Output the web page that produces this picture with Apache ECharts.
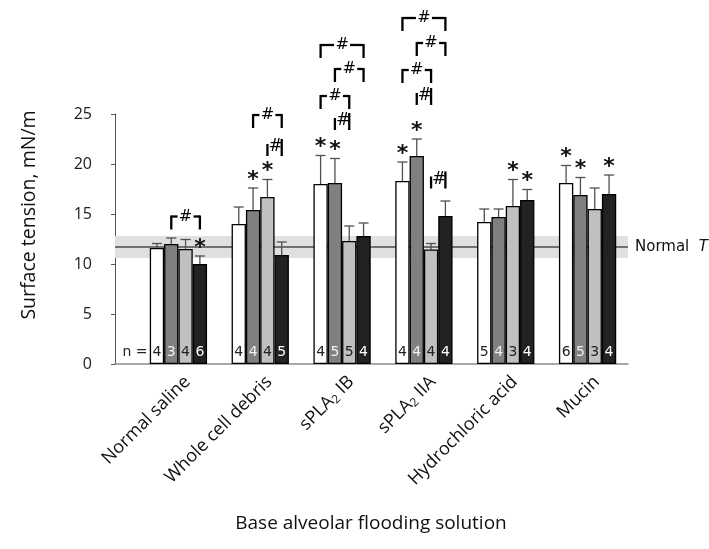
<!DOCTYPE html>
<html>
<head>
<meta charset="utf-8">
<script src="https://cdn.jsdelivr.net/npm/echarts@6/dist/echarts.min.js"></script>
<style>html,body{margin:0;padding:0;background:#fff}#c{width:709px;height:549px}</style>
</head>
<body>
<div id="c"></div>
<script>
// ---------- data ----------
const categories = ['Normal saline', 'Whole cell debris', 'sPLA2 IB', 'sPLA2 IIA', 'Hydrochloric acid', 'Mucin'];
const yTicks = [0, 5, 10, 15, 20, 25];
// four bars per category (white, dark gray, light gray, black)
const valWhite = [11.6, 14.0, 18.0, 18.3, 14.2, 18.1];
const valDark  = [12.0, 15.4, 18.1, 20.8, 14.7, 16.9];
const valLight = [11.5, 16.7, 12.3, 11.45, 15.8, 15.5];
const valBlack = [10.0, 10.9, 12.8, 14.8, 16.4, 17.0];
const errWhite = [0.45, 1.7, 2.85, 1.9, 1.3, 1.75];
const errDark  = [0.6, 2.2, 2.45, 1.7, 0.8, 1.75];
const errLight = [0.95, 1.75, 1.5, 0.6, 2.65, 2.1];
const errBlack = [0.8, 1.3, 1.3, 1.5, 1.05, 1.9];
const nWhite = [4, 4, 4, 4, 5, 6];
const nDark  = [3, 4, 5, 4, 4, 5];
const nLight = [4, 4, 5, 4, 3, 3];
const nBlack = [6, 5, 4, 4, 4, 4];
// asterisks: [category, bar]
const asterisks = [[0,3],[1,1],[1,2],[2,0],[2,1],[3,0],[3,1],[4,2],[4,3],[5,0],[5,1],[5,3]];
// # brackets: [category, fromBar, toBar, topValue]
const brackets = [
  [0,1,3,14.75],
  [1,1,3,24.9],[1,2,3,22.5],
  [2,0,3,31.9],[2,1,3,29.5],[2,0,2,26.8],[2,1,2,25.1],
  [3,0,3,34.6],[3,1,3,32.1],[3,0,2,29.4],[3,1,2,27.6],[3,2,3,19.25]
];
const normalT = 11.7;
const normalBand = [10.6, 12.8];

// ---------- build ----------
const vals = [valWhite, valDark, valLight, valBlack];
const errs = [errWhite, errDark, errLight, errBlack];
const ns = [nWhite, nDark, nLight, nBlack];
const fills = ['#ffffff', '#808080', '#c0c0c0', '#222222'];
const nColors = ['#222', '#f0f0f0', '#222', '#ffffff'];
const BARFRAC = 0.175;
const numFont = 'DejaVu Sans';
const txtFont = 'Open Sans';

function barX(api, cat, b) {
  const bw = api.size([1, 0])[0] * BARFRAC;
  return api.coord([cat, 0])[0] + (b - 1.5) * bw;
}

const errData = [], nData = [], astData = [];
for (let b = 0; b < 4; b++) for (let i = 0; i < categories.length; i++) {
  errData.push([i, b, vals[b][i], errs[b][i]]);
  nData.push([i, b, ns[b][i]]);
}
asterisks.forEach(a => astData.push([a[0], a[1], vals[a[1]][a[0]] + errs[a[1]][a[0]]]));

const series = [
  {
    type: 'line', xAxisIndex: 0, yAxisIndex: 0, z: 1,
    data: [[0, normalT], [1, normalT]], symbol: 'none', silent: true,
    lineStyle: { color: '#000', width: 1 },
    endLabel: { show: true, formatter: 'Normal  {i|T}', distance: 7, fontFamily: numFont, fontSize: 15, color: '#111',
      rich: { i: { fontStyle: 'italic', fontFamily: numFont, fontSize: 15, color: '#111' } } },
    markArea: { silent: true, itemStyle: { color: '#e0e0e0' }, data: [[{ yAxis: normalBand[0] }, { yAxis: normalBand[1] }]] }
  }
];
const names = ['White', 'Dark gray', 'Light gray', 'Black'];
for (let b = 0; b < 4; b++) {
  series.push({
    type: 'bar', name: names[b], xAxisIndex: 1, yAxisIndex: 1, z: 3,
    data: vals[b], barWidth: (BARFRAC * 100) + '%', barGap: '0%',
    itemStyle: { color: fills[b], borderColor: '#000', borderWidth: 1.3 },
    silent: true
  });
}
series.push({
  type: 'custom', xAxisIndex: 1, yAxisIndex: 1, z: 2, silent: true, clip: false,
  data: errData, encode: { x: 0, y: 2 },
  renderItem: function (params, api) {
    const cat = api.value(0), b = api.value(1), v = api.value(2), e = api.value(3);
    const x = barX(api, cat, b);
    const y0 = api.coord([cat, v])[1], y1 = api.coord([cat, v + e])[1];
    const st = { stroke: '#505050', lineWidth: 1.3 };
    return { type: 'group', children: [
      { type: 'line', shape: { x1: x, y1: y0, x2: x, y2: y1 }, style: st },
      { type: 'line', shape: { x1: x - 5, y1: y1, x2: x + 5, y2: y1 }, style: st }
    ] };
  }
});
series.push({
  type: 'custom', xAxisIndex: 1, yAxisIndex: 1, z: 5, silent: true, clip: false,
  data: nData, encode: { x: 0, y: 2 },
  renderItem: function (params, api) {
    const cat = api.value(0), b = api.value(1), n = api.value(2);
    const x = barX(api, cat, b);
    const y = api.coord([cat, 0])[1] - 12;
    const kids = [{ type: 'text', style: { text: String(n), x: x, y: y, align: 'center', verticalAlign: 'middle',
      fontFamily: numFont, fontSize: 14, fill: nColors[b] } }];
    if (cat === 0 && b === 0) kids.push({ type: 'text', style: { text: 'n =', x: x - 22, y: y, align: 'center',
      verticalAlign: 'middle', fontFamily: numFont, fontSize: 14, fill: '#222' } });
    return { type: 'group', children: kids };
  }
});
series.push({
  type: 'custom', xAxisIndex: 1, yAxisIndex: 1, z: 5, silent: true, clip: false,
  data: astData, encode: { x: 0, y: 2 },
  renderItem: function (params, api) {
    const cat = api.value(0), b = api.value(1), top = api.value(2);
    const x = barX(api, cat, b);
    const y = api.coord([cat, top])[1] - 8;
    return { type: 'text', style: { text: '*', x: x, y: y, align: 'center', verticalAlign: 'middle',
      fontFamily: numFont, fontSize: 22, fontWeight: 'bold', fill: '#111' } };
  }
});
series.push({
  type: 'custom', xAxisIndex: 1, yAxisIndex: 1, z: 5, silent: true, clip: false,
  data: brackets, encode: { x: 0, y: 3 },
  renderItem: function (params, api) {
    const cat = api.value(0), f = api.value(1), t = api.value(2), top = api.value(3);
    const x1 = barX(api, cat, f), x2 = barX(api, cat, t);
    const yt = api.coord([cat, top])[1];
    const mid = (x1 + x2) / 2;
    const st = { stroke: '#000', lineWidth: 2.3 };
    const kids = [];
    if (x2 - x1 > 20) {
      kids.push({ type: 'line', shape: { x1: x1, y1: yt, x2: mid - 8, y2: yt }, style: st });
      kids.push({ type: 'line', shape: { x1: mid + 8, y1: yt, x2: x2, y2: yt }, style: st });
      kids.push({ type: 'line', shape: { x1: x1, y1: yt - 1, x2: x1, y2: yt + 13 }, style: st });
      kids.push({ type: 'line', shape: { x1: x2, y1: yt - 1, x2: x2, y2: yt + 13 }, style: st });
      kids.push({ type: 'text', style: { text: '#', x: mid, y: yt, align: 'center', verticalAlign: 'middle',
        fontFamily: numFont, fontSize: 16, fill: '#000' } });
    } else {
      kids.push({ type: 'line', shape: { x1: x1, y1: yt + 5, x2: x1, y2: yt + 17 }, style: st });
      kids.push({ type: 'line', shape: { x1: x2, y1: yt, x2: x2, y2: yt + 17 }, style: st });
      kids.push({ type: 'text', style: { text: '#', x: mid + 1, y: yt + 8, align: 'center', verticalAlign: 'middle',
        fontFamily: numFont, fontSize: 17, fill: '#000' } });
    }
    return { type: 'group', children: kids };
  }
});

const chart = echarts.init(document.getElementById('c'), null, { renderer: 'canvas' });
chart.setOption({
  animation: false,
  backgroundColor: '#fff',
  grid: [
    { left: 115, width: 513, top: 114, height: 250 },
    { left: 137.5, width: 491, top: 114, height: 250 },
    { left: 146.5, width: 491, top: 114, height: 250 }
  ],
  xAxis: [
    { type: 'value', gridIndex: 0, min: 0, max: 1, axisLine: { show: true, onZero: false, lineStyle: { color: '#8a8a8a', width: 1.5 } },
      axisTick: { show: false }, axisLabel: { show: false }, splitLine: { show: false } },
    { type: 'category', gridIndex: 1, data: categories, axisLine: { show: false }, axisTick: { show: false },
      axisLabel: { show: false } },
    { type: 'category', gridIndex: 2, data: categories, axisLine: { show: false }, axisTick: { show: false },
      axisLabel: { rotate: 45, margin: 15, interval: 0, fontFamily: txtFont, fontSize: 18, color: '#111',
        formatter: function (s) { return s.replace('sPLA2', 'sPLA{sub|2}'); },
        rich: { sub: { fontFamily: txtFont, fontSize: 12, verticalAlign: 'bottom', padding: [8, 0, 0, 0], color: '#111' } } } }
  ],
  yAxis: [
    { type: 'value', gridIndex: 0, min: 0, max: 25, interval: 5,
      axisLine: { show: true, lineStyle: { color: '#555', width: 1 } },
      axisTick: { show: true, length: 4, lineStyle: { color: '#555' } },
      axisLabel: { margin: 23, fontFamily: txtFont, fontSize: 16, color: '#222' }, splitLine: { show: false } },
    { type: 'value', gridIndex: 1, min: 0, max: 25, interval: 5, show: false, splitLine: { show: false } },
    { type: 'value', gridIndex: 2, min: 0, max: 25, interval: 5, show: false, splitLine: { show: false } }
  ],
  graphic: [
    { type: 'text', x: 29, y: 215, rotation: Math.PI / 2,
      style: { text: 'Surface tension, mN/m', fontFamily: txtFont, fontSize: 19.5, fill: '#111', align: 'center', verticalAlign: 'middle' } },
    { type: 'text', x: 371, y: 524,
      style: { text: 'Base alveolar flooding solution', fontFamily: txtFont, fontSize: 19, fill: '#111', align: 'center', verticalAlign: 'middle' } }
  ],
  series: series
});
</script>
</body>
</html>
